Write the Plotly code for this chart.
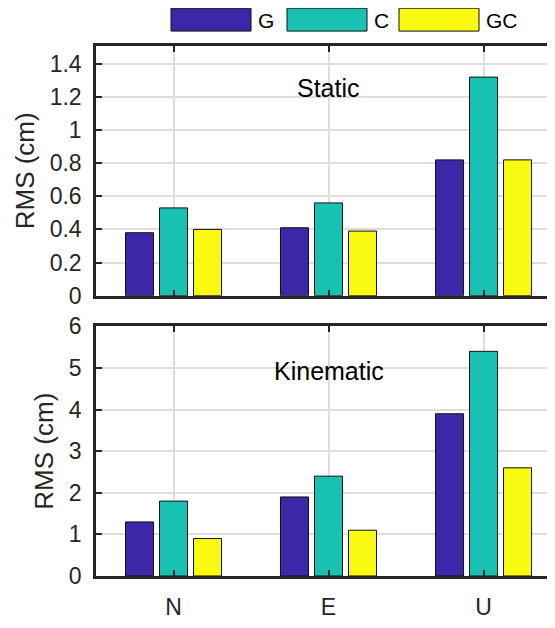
import plotly.graph_objects as go
from plotly.subplots import make_subplots

categories = ["N", "E", "U"]
series_names = ["G", "C", "GC"]
static_G = [0.38, 0.41, 0.82]
static_C = [0.53, 0.56, 1.32]
static_GC = [0.40, 0.39, 0.82]
kin_G = [1.3, 1.9, 3.9]
kin_C = [1.8, 2.4, 5.4]
kin_GC = [0.9, 1.1, 2.6]
static_ticks = [0, 0.2, 0.4, 0.6, 0.8, 1.0, 1.2, 1.4]
static_ticktext = ["0", "0.2", "0.4", "0.6", "0.8", "1", "1.2", "1.4"]
kin_ticks = [0, 1, 2, 3, 4, 5, 6]
colors = ["#3e26a8", "#19c1b3", "#f9fa10"]

FONT = "Arial, Liberation Sans, sans-serif"
AX = "#262626"

fig = make_subplots(rows=2, cols=1, vertical_spacing=0.0)

for vals, name, col in zip([static_G, static_C, static_GC], series_names, colors):
    fig.add_trace(go.Bar(x=categories, y=vals, name=name, marker_color=col,
                         marker_line=dict(color="#111111", width=1),
                         showlegend=False), row=1, col=1)
for vals, name, col in zip([kin_G, kin_C, kin_GC], series_names, colors):
    fig.add_trace(go.Bar(x=categories, y=vals, name=name, marker_color=col,
                         marker_line=dict(color="#111111", width=1),
                         showlegend=False), row=2, col=1)

xcommon = dict(type="category", range=[-0.5, 2.461], showgrid=True, gridcolor="#dedede",
               gridwidth=2, showline=True, linecolor=AX, linewidth=2.5, mirror="ticks",
               ticks="inside", ticklen=6, tickwidth=2, tickcolor=AX, ticklabelstandoff=9,
               tickfont=dict(family=FONT, size=23, color=AX), zeroline=False)
ycommon = dict(showgrid=True, gridcolor="#dedede", gridwidth=2, showline=True,
               linecolor=AX, linewidth=2.5, mirror=False, ticks="inside", ticklen=6,
               tickwidth=2, tickcolor=AX, tickfont=dict(family=FONT, size=23, color=AX),
               ticklabelstandoff=7, zeroline=False,
               title=dict(text="RMS (cm)", font=dict(family=FONT, size=26, color=AX), standoff=8))

fig.update_xaxes(**xcommon)
fig.update_xaxes(showticklabels=False, row=1, col=1)
fig.update_yaxes(**ycommon)
fig.update_yaxes(range=[0, 1.508], tickvals=static_ticks, ticktext=static_ticktext, row=1, col=1)
fig.update_yaxes(range=[0, 6.0], tickvals=kin_ticks, row=2, col=1)

# page body has an 8px margin: size the figure so the page does not overflow
fig.update_layout(
    width=547, height=612,
    margin=dict(l=88, r=0, t=38, b=41),
    plot_bgcolor="white", paper_bgcolor="white",
    barmode="group", bargap=0.342, bargroupgap=0.176,
    font=dict(family=FONT, color=AX),
    yaxis=dict(domain=[0.529, 1.0]),
    yaxis2=dict(domain=[0.0, 0.471]),
)

fig.add_annotation(text="Static", xref="x", yref="y", x=1, y=1.256, showarrow=False,
                   font=dict(family=FONT, size=25, color="#000"))
fig.add_annotation(text="Kinematic", xref="x2", yref="y2", x=1, y=4.92, showarrow=False,
                   font=dict(family=FONT, size=25, color="#000"))


def sx(px):
    return (px - 96) / 459


def sy(py):
    return (579 - py) / 533


# legend drawn manually (wide MATLAB-style swatches)
legend_x0 = [171, 287, 399]
for name, col, x0 in zip(series_names, colors, legend_x0):
    fig.add_shape(type="rect", xref="paper", yref="paper",
                  x0=sx(x0), x1=sx(x0 + 80), y0=sy(31), y1=sy(8),
                  fillcolor=col, line=dict(color="#111111", width=1))
    fig.add_annotation(text=name, xref="paper", yref="paper",
                       x=sx(x0 + 85), y=sy(20),
                       xanchor="left", yanchor="middle", showarrow=False,
                       font=dict(family=FONT, size=21, color="#000"))

fig.write_html("out.html")
